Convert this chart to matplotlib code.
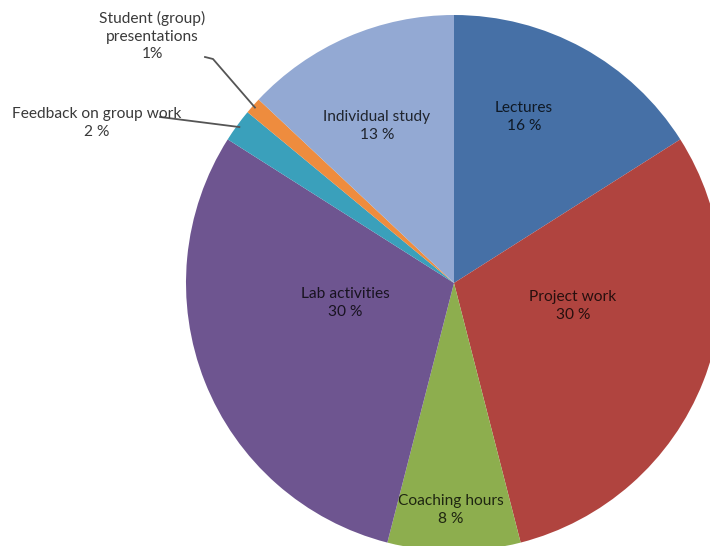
import numpy as np
import matplotlib.pyplot as plt
from matplotlib import colors as mcolors

# time spent per activity, clockwise from 12 o'clock
activities = ["Lectures", "Project work", "Coaching hours", "Lab activities",
              "Feedback on group work", "Student (group)\npresentations",
              "Individual study"]
shares = [16, 30, 8, 30, 2, 1, 13]
share_labels = ["16 %", "30 %", "8 %", "30 %", "2 %", "1%", "13 %"]
slice_colors = ["#4670a6", "#b0443f", "#8dae4e", "#6e5590",
                "#3aa0bb", "#ee8c3e", "#93a9d3"]

W, H = 710, 546
cx, cy, R = 454, H - 283, 268

fig = plt.figure(figsize=(W / 100, H / 100), dpi=100)
ax = fig.add_axes([0, 0, 1, 1])

wedges, _ = ax.pie(shares, colors=slice_colors, startangle=90, counterclock=False,
                   center=(cx, cy), radius=R, frame=False)
ax.set_xlim(0, W)
ax.set_ylim(0, H)
ax.set_aspect("equal")
ax.axis("off")

font = "Lato"
fs = 11.2
ls = 1.3


def dark(c, k=0.22):
    r, g, b = mcolors.to_rgb(c)
    return (r * k, g * k, b * k)


# labels inside the big slices (pixel positions, y from top)
inner_pos = {0: (524, 117), 1: (573, 306), 2: (451, 510), 3: (345, 303), 6: (377, 126)}
for i, (px, py) in inner_pos.items():
    ax.text(px, H - py, activities[i] + "\n" + share_labels[i], ha="center", va="center",
            fontsize=fs, family=font, color=dark(slice_colors[i]), linespacing=ls)

# outside labels with leader lines to the thin slices
def edge_point(w, frac=0.99):
    th = np.deg2rad((w.theta1 + w.theta2) / 2)
    return cx + R * frac * np.cos(th), cy + R * frac * np.sin(th)

ax.text(97, H - 123, activities[4] + "\n" + share_labels[4], ha="center", va="center",
        fontsize=fs, family=font, color="#3a3a3a", linespacing=ls)
ex, ey = edge_point(wedges[4])
ax.plot([160, ex], [H - 117, ey], color="#555555", lw=1.3)

ax.text(152, H - 36, activities[5] + "\n" + share_labels[5], ha="center", va="center",
        fontsize=fs, family=font, color="#3a3a3a", linespacing=ls)
ex, ey = edge_point(wedges[5])
ax.plot([205, 213, ex], [H - 57, H - 59, ey], color="#555555", lw=1.3)

fig.savefig("out.png", dpi=100)
